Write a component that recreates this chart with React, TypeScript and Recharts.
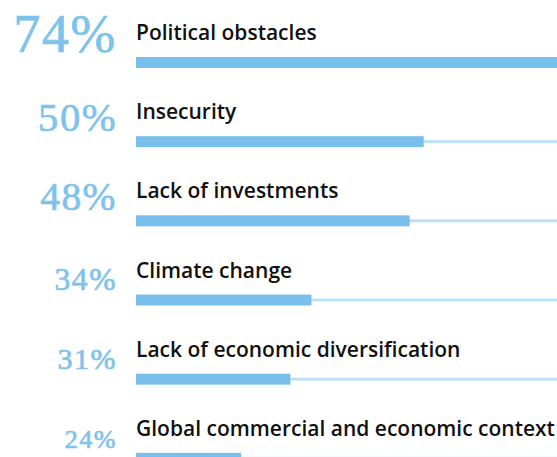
import React from 'react';
import { BarChart, Bar, XAxis, YAxis, LabelList } from 'recharts';

const categories = [
  'Political obstacles',
  'Insecurity',
  'Lack of investments',
  'Climate change',
  'Lack of economic diversification',
  'Global commercial and economic context',
];
const values = [74, 50, 48, 34, 31, 24];

const data = categories.map((name, i) => ({ name, value: values[i] }));

const BAR_COLOR = '#79bfeb';
const TRACK_COLOR = '#bfe1f6';
const PCT_COLOR = '#7fc3ec';

const BarWithTrack = (props: any) => {
  const { x, y, width, height, background } = props;
  const bg = background || { x, width: 421 };
  return (
    <g>
      <rect x={bg.x} y={y + height / 2 - 1.5} width={bg.width} height={3} fill={TRACK_COLOR} />
      <rect x={x} y={y} width={width} height={height} fill={BAR_COLOR} />
    </g>
  );
};

const CategoryLabel = (props: any) => {
  const { x, y, value } = props;
  return (
    <text
      x={x}
      y={y - 17}
      fill="#111"
      fontFamily="'Open Sans', 'Noto Sans', sans-serif"
      fontWeight={600}
      fontSize={21}
    >
      {value}
    </text>
  );
};

const PctLabel = (props: any) => {
  const { x, y, value } = props;
  const fs = 12.6 + 0.56 * Number(value);
  return (
    <text
      x={x - 19}
      y={y - 5}
      fill={PCT_COLOR}
      stroke={PCT_COLOR}
      strokeWidth={0.7}
      textAnchor="end"
      fontFamily="'Liberation Serif', 'DejaVu Serif', serif"
      fontSize={fs}
      letterSpacing={1.5}
    >
      {`${value}%`}
    </text>
  );
};

export default function App() {
  return (
    <div
      style={{
        position: 'fixed',
        left: 0,
        top: 0,
        width: 557,
        height: 457,
        overflow: 'hidden',
        background: '#fff',
      }}
    >
      <BarChart
        width={557}
        height={500}
        data={data}
        layout="vertical"
        margin={{ top: 23, right: 0, bottom: 2, left: 136 }}
      >
        <XAxis type="number" hide domain={[9, 69]} allowDataOverflow />
        <YAxis type="category" dataKey="name" hide />
        <Bar
          dataKey="value"
          barSize={11}
          shape={BarWithTrack}
          isAnimationActive={false}
        >
          <LabelList dataKey="name" content={CategoryLabel} />
          <LabelList dataKey="value" content={PctLabel} />
        </Bar>
      </BarChart>
    </div>
  );
}
